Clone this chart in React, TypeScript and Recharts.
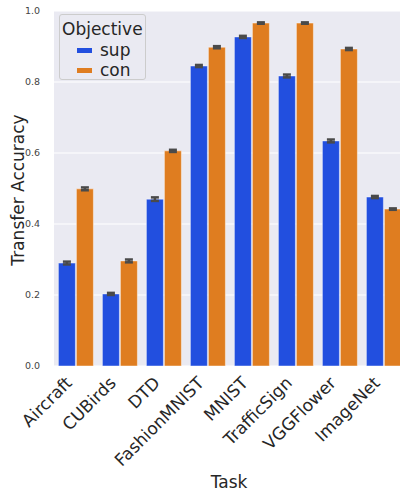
import React from 'react';
import { BarChart, Bar, XAxis, YAxis, CartesianGrid, ErrorBar } from 'recharts';

const tasks = ['Aircraft', 'CUBirds', 'DTD', 'FashionMNIST', 'MNIST', 'TrafficSign', 'VGGFlower', 'ImageNet'];
const supValues = [0.29, 0.203, 0.47, 0.845, 0.927, 0.817, 0.634, 0.476];
const conValues = [0.499, 0.296, 0.606, 0.898, 0.966, 0.966, 0.893, 0.442];
const supErr = [0.004, 0.003, 0.005, 0.003, 0.003, 0.004, 0.004, 0.003];
const conErr = [0.004, 0.004, 0.003, 0.003, 0.002, 0.002, 0.003, 0.002];
const yTicks = [0, 0.2, 0.4, 0.6, 0.8, 1.0];

const data = tasks.map((task, i) => ({
  task,
  sup: supValues[i],
  con: conValues[i],
  supErr: supErr[i],
  conErr: conErr[i],
}));

const FONT = '"DejaVu Sans", sans-serif';
const TEXT = '#262626';
const BLUE = '#224FDF';
const ORANGE = '#DF7D20';

const legendItems = [
  { name: 'sup', color: BLUE },
  { name: 'con', color: ORANGE },
];

const XTick = ({ x, y, payload }: any) => {
  const tx = x - 3;
  const ty = y + 16;
  return (
    <text
      x={tx}
      y={ty}
      textAnchor="end"
      transform={`rotate(-45, ${tx}, ${ty})`}
      fontSize={17}
      fontFamily={FONT}
      fill={TEXT}
    >
      {payload.value}
    </text>
  );
};

// overlay legend, so it does not take room from the plot
const LegendBox = () => (
  <div
    style={{
      position: 'absolute',
      left: 59,
      top: 14,
      width: 87,
      height: 66,
      boxSizing: 'border-box',
      border: '1px solid #cccccc',
      borderRadius: 3,
      background: '#EAEAF2',
      fontFamily: FONT,
      color: TEXT,
      paddingLeft: 2,
    }}
  >
    <div style={{ fontSize: 17, lineHeight: '22px', marginTop: 3 }}>Objective</div>
    {legendItems.map((p) => (
      <div key={p.name} style={{ display: 'flex', alignItems: 'center', height: 20 }}>
        <span style={{ display: 'inline-block', width: 15, height: 5, background: p.color, marginLeft: 15, marginRight: 8 }} />
        <span style={{ fontSize: 17 }}>{p.name}</span>
      </div>
    ))}
  </div>
);

export default function App() {
  return (
    <div style={{ position: 'absolute', left: 0, top: 0, width: 400, height: 491, overflow: 'hidden', background: '#fff' }}>
      <BarChart
        width={420}
        height={491}
        data={data}
        margin={{ top: 11, right: 14, left: 0, bottom: 0 }}
        barCategoryGap="10%"
        barGap={1}
      >
        <CartesianGrid fill="#EAEAF2" stroke="#ffffff" strokeWidth={1.2} vertical={false} />
        <XAxis
          dataKey="task"
          height={125}
          interval={0}
          axisLine={false}
          tickLine={false}
          tickSize={0}
          tick={<XTick />}
          label={() => (
            <text x={229} y={488} textAnchor="middle" fontSize={17} fontFamily={FONT} fill={TEXT}>
              Task
            </text>
          )}
        />
        <YAxis
          width={54}
          domain={[0, 1]}
          ticks={yTicks}
          tickFormatter={(v: number) => v.toFixed(1)}
          axisLine={false}
          tickLine={false}
          tickMargin={8}
          tick={{ fontSize: 9.5, fontFamily: FONT, fill: '#444' }}
          label={() => (
            <text
              x={24}
              y={190}
              textAnchor="middle"
              transform="rotate(-90, 24, 190)"
              fontSize={17}
              fontFamily={FONT}
              fill={TEXT}
            >
              Transfer Accuracy
            </text>
          )}
        />
        <Bar dataKey="sup" name="sup" fill={BLUE} stroke="rgba(255,255,255,0.45)" strokeWidth={1} isAnimationActive={false}>
          <ErrorBar dataKey="supErr" width={4} stroke="#4a4a4a" strokeWidth={2.5} />
        </Bar>
        <Bar dataKey="con" name="con" fill={ORANGE} stroke="rgba(255,255,255,0.45)" strokeWidth={1} isAnimationActive={false}>
          <ErrorBar dataKey="conErr" width={4} stroke="#4a4a4a" strokeWidth={2.5} />
        </Bar>
      </BarChart>
      <LegendBox />
    </div>
  );
}
